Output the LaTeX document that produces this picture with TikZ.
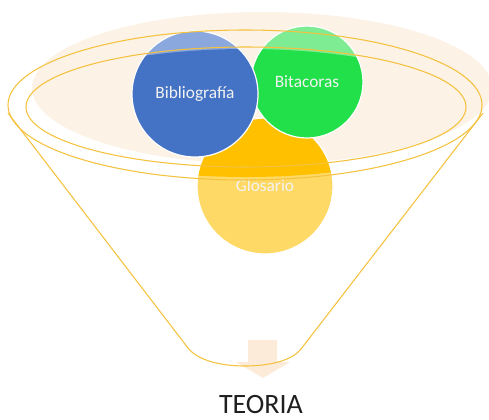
\documentclass[tikz,border=0pt]{standalone}
\usepackage{fontspec}
\setmainfont{Carlito}
\usepackage{tikz}
\usetikzlibrary{positioning}
\definecolor{funnel}{HTML}{F4C23E}
\definecolor{band}{HTML}{FDF2E6}
\definecolor{arrowfill}{HTML}{FDEBD9}
\definecolor{bluefull}{HTML}{4472C4}
\definecolor{bluelight}{HTML}{8AA7DE}
\definecolor{greenfull}{HTML}{22E04A}
\definecolor{greenlight}{HTML}{7EEC92}
\definecolor{yellowfull}{HTML}{FFC000}
\definecolor{yellowlight}{HTML}{FFD966}

\begin{document}
\begin{tikzpicture}[x=0.75pt,y=-0.75pt,
                    rim/.style={draw=funnel,line width=0.8pt},
                    bubble/.style={circle,draw=white,line width=0.9pt,inner sep=0pt,
                                   text=white!90!gray,font=\fontsize{13}{15}\selectfont}]
\useasboundingbox (0,0) rectangle (489,419);
% faint band and arrow behind the funnel
\fill[band] (262,88) ellipse (230 and 76);
\fill[arrowfill] (248,340) -- (277,340) -- (277,362) -- (290,362) -- (263,378)
                 -- (236,362) -- (248,362) -- cycle;
% Glosario
\fill[yellowlight] (265,186) circle (68);
\begin{scope}
  \clip (246,113) ellipse (226 and 64);
  \fill[yellowfull] (265,186) circle (68);
\end{scope}
\node[bubble,minimum size=102pt] (glo) at (265,186) {Glosario};
% Bitacoras
\fill[greenlight] (307,82) circle (56);
\begin{scope}
  \clip (246,113) ellipse (226 and 64);
  \fill[greenfull] (307,82) circle (56);
\end{scope}
\node[bubble,minimum size=84pt] (bit) at (307,82) {Bitacoras};
% Bibliografia
\fill[bluelight] (195,94) circle (63);
\begin{scope}
  \clip (246,113) ellipse (226 and 64);
  \fill[bluefull] (195,94) circle (63);
\end{scope}
\node[bubble,minimum size=94.5pt] (bib) at (195,94) {Bibliografía};
% funnel
\draw[rim] (245,105) ellipse (237 and 75);
\draw[rim] (246,107) ellipse (220 and 60);
\draw[rim] (8,113) -- (188,348) .. controls (200,363) and (228,366) .. (245,366)
           .. controls (262,366) and (290,363) .. (301,349) -- (483,113);
\node[text=black!88,inner sep=0pt,font=\fontsize{21}{24}\selectfont] (teoria) at (261,404) {TEORIA};
\end{tikzpicture}
\end{document}
